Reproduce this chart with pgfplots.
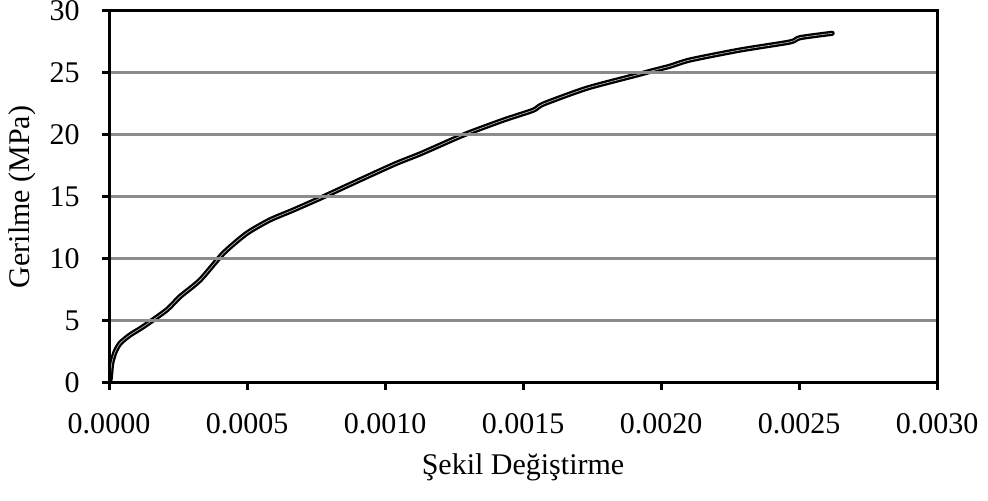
\documentclass[border=0pt]{standalone}
\usepackage{pgfplots}
\pgfplotsset{compat=1.18}
\usepackage{fontspec}
\setmainfont{Liberation Serif}
\definecolor{gridgray}{RGB}{140,140,140}
\begin{document}
\fontsize{15}{18}\selectfont
\begin{tikzpicture}
\useasboundingbox (-54.5pt,-59pt) rectangle (439.5pt,191.5pt);
\begin{axis}[
  at={(0,0)}, anchor=south west,
  scale only axis, width=414pt, height=186pt,
  xmin=0, xmax=0.003, ymin=0, ymax=30,
  xtick={0,0.0005,0.001,0.0015,0.002,0.0025,0.003},
  xticklabels={0.0000,0.0005,0.0010,0.0015,0.0020,0.0025,0.0030},
  ytick={0,5,10,15,20,25,30},
  /pgf/number format/assume math mode=true,
  scaled x ticks=false,
  tick pos=left, tick align=outside,
  major tick length=3.5pt,
  tick style={black, line width=1.5pt},
  axis line style={black, line width=1.5pt},
  ymajorgrids, grid style={gridgray, line width=1.5pt},
  axis on top,
  xticklabel style={font=\fontsize{15}{18}\selectfont, yshift=-6.5pt},
  yticklabel style={font=\fontsize{15}{18}\selectfont, xshift=-6pt},
  xlabel={Şekil Değiştirme},
  ylabel={Gerilme (MPa)},
  xlabel style={font=\fontsize{15}{18}\selectfont, at={(axis description cs:0.5,-0.228)}, anchor=center},
  ylabel style={font=\fontsize{15}{18}\selectfont, at={(axis description cs:-0.105,0.5)}, anchor=center},
]
\addplot[black, line width=1.15pt, double=gray!45, double distance=0.3pt, line cap=round, smooth, tension=0.4] coordinates {
(0,0)
(0.000004,0.3)
(0.00001,1.6)
(0.000022,2.5)
(0.00004,3.2)
(0.000076,3.87)
(0.000124,4.54)
(0.000209,5.89)
(0.000257,6.96)
(0.00033,8.3)
(0.000414,10.46)
(0.000499,12.07)
(0.000583,13.15)
(0.000668,13.95)
(0.000777,15.02)
(0.000921,16.5)
(0.00104,17.7)
(0.00113,18.5)
(0.001284,20.0)
(0.001429,21.2)
(0.001537,22.0)
(0.001574,22.5)
(0.001731,23.77)
(0.001912,24.84)
(0.001972,25.2)
(0.002033,25.55)
(0.002105,26.05)
(0.002286,26.85)
(0.002467,27.5)
(0.002504,27.85)
(0.00262,28.2)
};
\end{axis}
\end{tikzpicture}
\end{document}
